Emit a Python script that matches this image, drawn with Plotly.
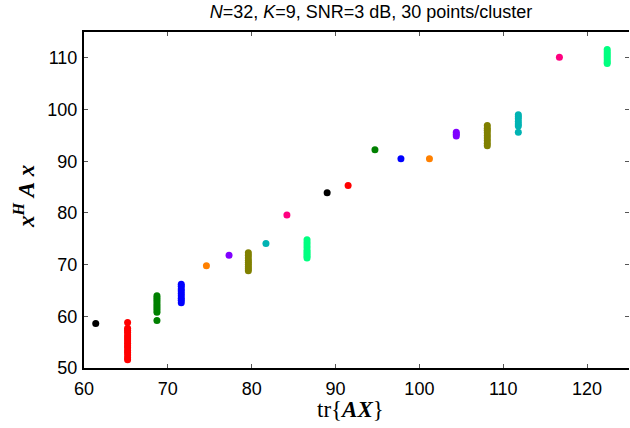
import plotly.graph_objects as go

# ---- data ----
cluster_x = [61.4, 65.2, 68.7, 71.6, 74.6, 77.3, 79.6, 81.7, 84.2, 86.6,
             89.0, 91.5, 94.7, 97.8, 101.2, 104.4, 108.1, 111.8, 116.7, 122.4]

cluster_y = [
    [58.6],
    [58.8, 57.7, 57.3, 56.9, 56.4, 56.0, 55.6, 55.2, 54.8, 54.3, 53.9, 53.4, 53.0, 52.5, 52.0, 51.6],
    [64.0, 63.6, 63.2, 62.8, 62.4, 62.0, 61.6, 61.2, 60.8, 59.2],
    [66.2, 65.8, 65.3, 64.9, 64.4, 64.0, 63.5, 63.1, 62.6],
    [69.8],
    [71.8],
    [72.3, 71.8, 71.3, 70.8, 70.4, 70.0, 69.6, 69.2, 68.8],
    [74.1],
    [79.6],
    [74.8, 74.3, 73.8, 73.3, 72.8, 72.4, 72.0, 71.6, 71.3],
    [83.9],
    [85.3],
    [92.2],
    [90.5],
    [90.5],
    [95.6, 95.2, 94.9],
    [96.9, 96.4, 96.0, 95.5, 95.0, 94.5, 94.0, 93.5, 93.0],
    [99.0, 98.6, 98.2, 97.7, 97.2, 96.8, 95.6],
    [110.1],
    [111.6, 111.2, 110.8, 110.4, 110.0, 109.6, 109.2, 108.9],
]

cluster_colors = ["#000000", "#ff0000", "#008000", "#0000ff", "#ff8000",
                  "#8000ff", "#808000", "#00b3b3", "#ff0080", "#00ff80"] * 2

x_ticks = [60, 70, 80, 90, 100, 110, 120]
y_ticks = [50, 60, 70, 80, 90, 100, 110]

fig = go.Figure()
for i, (cx, ys) in enumerate(zip(cluster_x, cluster_y)):
    fig.add_trace(go.Scatter(
        x=[cx] * len(ys), y=ys, mode="markers",
        marker=dict(color=cluster_colors[i], size=7, line=dict(width=0)),
        showlegend=False, hoverinfo="x+y"))

# invisible helper trace for the right-hand tick axis
fig.add_trace(go.Scatter(x=[60], y=[50], yaxis="y2", mode="markers",
                         marker=dict(opacity=0), showlegend=False, hoverinfo="skip"))

W, H = 630, 428
ml, mr, mt, mb = 84, 1, 32, 60

tickfont = dict(family="Liberation Sans, Arial", size=18, color="black")

fig.update_layout(
    width=W, height=H,
    margin=dict(l=ml, r=mr, t=mt, b=mb),
    paper_bgcolor="white", plot_bgcolor="white",
    xaxis=dict(range=[60, 125], tickvals=x_ticks, ticklabelstandoff=3,
               showgrid=False, zeroline=False, showline=True, linecolor="black",
               linewidth=2, mirror="ticks", ticks="inside", ticklen=4,
               tickcolor="#555555", tickwidth=1, tickfont=tickfont),
    yaxis=dict(range=[50, 115], tickvals=y_ticks, ticklabelstandoff=1,
               showgrid=False, zeroline=False, showline=True, linecolor="black",
               linewidth=2, mirror=False, ticks="inside", ticklen=4,
               tickcolor="#555555", tickwidth=1, tickfont=tickfont),
    yaxis2=dict(range=[50, 115], tickvals=y_ticks, overlaying="y", side="right",
                showgrid=False, zeroline=False, showline=False, ticks="inside",
                ticklen=4, tickcolor="#555555", tickwidth=1, showticklabels=False),
    title=dict(text="<i>N</i>=32, <i>K</i>=9, SNR=3 dB, 30 points/cluster",
               font=dict(family="Liberation Sans, Arial", size=18, color="black"),
               xref="paper", x=(371 - ml) / (W - ml - mr), xanchor="center",
               yref="container", y=1 - 12 / H, yanchor="middle"),
    annotations=[
        dict(text="tr{<b><i>AX</i></b>}", xref="paper", yref="paper",
             x=(350 - ml) / (W - ml - mr), y=-(409 - (H - mb)) / (H - mt - mb),
             xanchor="center", yanchor="middle", showarrow=False,
             font=dict(family="Liberation Serif, Times New Roman", size=23, color="black")),
        dict(text="<b><i>x</i></b><sup><b><i>H</i></b></sup> <b><i>A</i></b> <b><i>x</i></b>",
             xref="paper", yref="paper", textangle=-90,
             x=-(ml - 24) / (W - ml - mr), y=(H - mb - 197) / (H - mt - mb),
             xanchor="center", yanchor="middle", showarrow=False,
             font=dict(family="Liberation Serif, Times New Roman", size=23, color="black")),
    ],
)

fig.write_html("out.html")
